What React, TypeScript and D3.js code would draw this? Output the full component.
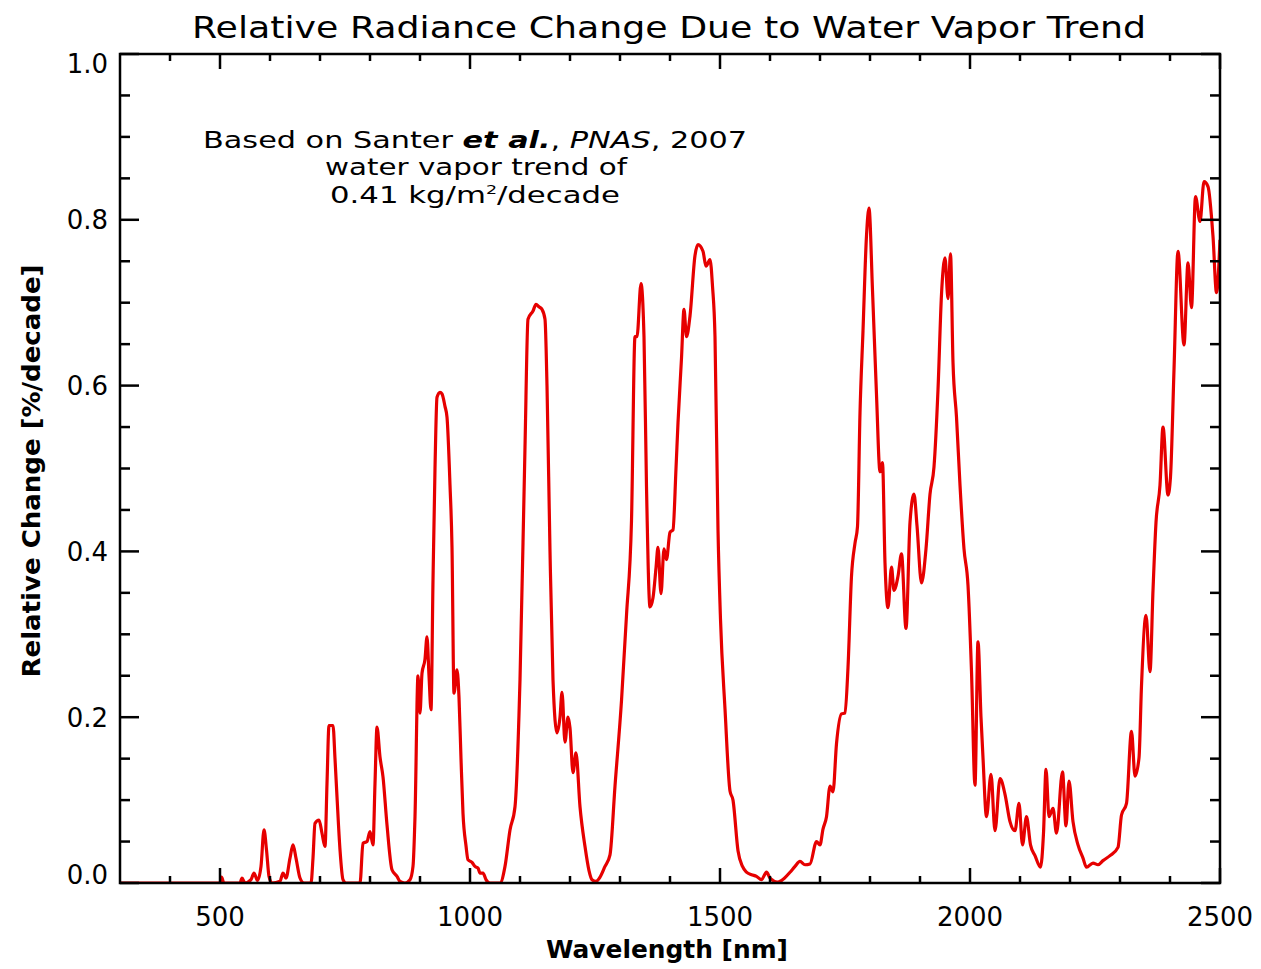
import React from "react";
import * as d3 from "d3";

const wavelengths: number[] = [
  300, 500, 503, 508, 540, 544, 550, 562, 568, 575, 582, 588, 593, 598, 604, 620, 626, 632, 640, 646,
  652, 660, 668, 682, 686, 690, 698, 704, 710, 714, 718, 726, 730, 734, 740, 746, 752, 780, 786, 794,
  800, 806, 810, 814, 820, 826, 834, 844, 854, 860, 870, 880, 886, 890, 896, 900, 904, 910, 914, 918,
  922, 926, 930, 934, 940, 944, 950, 954, 960, 964, 968, 974, 978, 982, 986, 992, 996, 1004, 1010, 1016,
  1020, 1026, 1032, 1040, 1060, 1070, 1080, 1090, 1100, 1110, 1116, 1126, 1132, 1138, 1144, 1150, 1154, 1160, 1166, 1174,
  1180, 1184, 1190, 1196, 1200, 1206, 1212, 1220, 1230, 1238, 1244, 1252, 1260, 1270, 1280, 1290, 1303, 1313, 1323, 1330,
  1334, 1342, 1348, 1353, 1360, 1366, 1372, 1376, 1382, 1388, 1393, 1400, 1406, 1412, 1416, 1423, 1428, 1433, 1440, 1450,
  1456, 1466, 1472, 1480, 1485, 1490, 1496, 1501, 1510, 1520, 1526, 1536, 1545, 1553, 1563, 1573, 1583, 1593, 1600, 1606,
  1615, 1623, 1640, 1650, 1660, 1670, 1680, 1693, 1700, 1706, 1713, 1720, 1726, 1733, 1743, 1750, 1756, 1763, 1770, 1775,
  1780, 1786, 1793, 1798, 1805, 1813, 1820, 1825, 1830, 1836, 1843, 1848, 1856, 1863, 1872, 1880, 1888, 1894, 1903, 1912,
  1920, 1928, 1936, 1943, 1950, 1956, 1961, 1966, 1973, 1980, 1988, 1996, 2003, 2010, 2016, 2022, 2026, 2033, 2042, 2050,
  2060, 2070, 2080, 2090, 2098, 2105, 2113, 2121, 2130, 2141, 2147, 2152, 2158, 2166, 2173, 2185, 2192, 2198, 2206, 2216,
  2226, 2233, 2246, 2256, 2266, 2280, 2296, 2303, 2313, 2323, 2330, 2338, 2343, 2352, 2360, 2366, 2372, 2380, 2386, 2396,
  2401, 2408, 2416, 2428, 2436, 2443, 2451, 2460, 2468, 2476, 2486, 2493, 2500,
];

const relativeChange: number[] = [
  0, 0, 0.007, 0, 0, 0.006, 0, 0.004, 0.012, 0.003, 0.02, 0.064, 0.04, 0.008, 0, 0.002, 0.012, 0.006, 0.03, 0.046,
  0.03, 0.006, 0, 0, 0.03, 0.072, 0.076, 0.06, 0.044, 0.12, 0.19, 0.19, 0.15, 0.104, 0.04, 0.004, 0, 0, 0.048, 0.05,
  0.062, 0.046, 0.12, 0.188, 0.152, 0.128, 0.07, 0.016, 0.008, 0.002, 0, 0.004, 0.02, 0.08, 0.25, 0.205, 0.253, 0.27, 0.297, 0.25,
  0.209, 0.365, 0.5, 0.586, 0.592, 0.59, 0.575, 0.562, 0.48, 0.405, 0.229, 0.257, 0.224, 0.15, 0.084, 0.045, 0.028, 0.025, 0.02, 0.018,
  0.012, 0.012, 0.004, 0, 0, 0.02, 0.064, 0.092, 0.245, 0.526, 0.68, 0.69, 0.698, 0.695, 0.692, 0.68, 0.6, 0.4, 0.245, 0.181,
  0.2, 0.23, 0.17, 0.2, 0.187, 0.133, 0.157, 0.092, 0.044, 0.015, 0.004, 0.002, 0.007, 0.02, 0.034, 0.117, 0.22, 0.323, 0.437, 0.659,
  0.659, 0.723, 0.659, 0.478, 0.333, 0.344, 0.38, 0.405, 0.349, 0.403, 0.39, 0.423, 0.426, 0.5, 0.555, 0.633, 0.692, 0.659, 0.684, 0.757,
  0.77, 0.762, 0.744, 0.752, 0.72, 0.659, 0.426, 0.318, 0.21, 0.111, 0.1, 0.039, 0.02, 0.013, 0.01, 0.008, 0.004, 0.013, 0.006, 0.003,
  0.001, 0.003, 0.013, 0.02, 0.026, 0.022, 0.023, 0.05, 0.046, 0.065, 0.08, 0.117, 0.11, 0.168, 0.204, 0.205, 0.26, 0.37, 0.41, 0.43,
  0.567, 0.666, 0.781, 0.814, 0.715, 0.589, 0.496, 0.507, 0.386, 0.332, 0.381, 0.353, 0.37, 0.397, 0.307, 0.435, 0.469, 0.431, 0.362, 0.403,
  0.469, 0.502, 0.595, 0.71, 0.754, 0.705, 0.759, 0.628, 0.562, 0.48, 0.403, 0.359, 0.255, 0.118, 0.291, 0.2, 0.151, 0.08, 0.131, 0.063,
  0.126, 0.107, 0.074, 0.063, 0.096, 0.046, 0.08, 0.046, 0.033, 0.019, 0.06, 0.137, 0.08, 0.09, 0.06, 0.134, 0.069, 0.123, 0.074, 0.046,
  0.03, 0.019, 0.024, 0.022, 0.027, 0.033, 0.043, 0.082, 0.096, 0.183, 0.129, 0.151, 0.238, 0.323, 0.255, 0.353, 0.435, 0.48, 0.55, 0.468,
  0.49, 0.619, 0.762, 0.649, 0.748, 0.694, 0.828, 0.798, 0.846, 0.84, 0.78, 0.712, 0.776,
];

const xMajorTicks: number[] = [500, 1000, 1500, 2000, 2500];
const xMinorTicks: number[] = [400, 600, 700, 800, 900, 1100, 1200, 1300, 1400, 1600, 1700, 1800, 1900, 2100, 2200, 2300, 2400];
const yMajorTicks: number[] = [0, 0.2, 0.4, 0.6, 0.8, 1.0];
const yMinorTicks: number[] = [0.05, 0.1, 0.15, 0.25, 0.3, 0.35, 0.45, 0.5, 0.55, 0.65, 0.7, 0.75, 0.85, 0.9, 0.95];

const title = "Relative Radiance Change Due to Water Vapor Trend";
const xTitle = "Wavelength [nm]";
const yTitle = "Relative Change [%/decade]";

const W = 1261;
const H = 969;
const left = 120;
const right = 1220;
const top = 54;
const bottom = 883;

const FONT = "'DejaVu Sans', 'Liberation Sans', sans-serif";

export default function App() {
  React.useEffect(() => {
    document.body.style.margin = "0";
  }, []);

  const x = d3.scaleLinear().domain([300, 2500]).range([left, right]);
  const y = d3.scaleLinear().domain([0, 1]).range([bottom, top]);

  const pts: [number, number][] = wavelengths.map((w, i) => [w, relativeChange[i]]);
  const line = d3
    .line<[number, number]>()
    .x((d) => x(d[0]))
    .y((d) => y(d[1]))
    .curve(d3.curveMonotoneX);

  const xMajLen = 15;
  const xMinLen = 7;
  const yMajLen = 19;
  const yMinLen = 10;

  return (
    <svg width={W} height={H} style={{ display: "block", background: "#fff" }} fontFamily={FONT}>
      <rect x={0} y={0} width={W} height={H} fill="#fff" />
      <text x={669} y={38} textAnchor="middle" fontSize={31} textLength={954} lengthAdjust="spacingAndGlyphs" fill="#000">
        {title}
      </text>

      <defs>
        <clipPath id="plotclip">
          <rect x={left} y={top - 5} width={right - left} height={bottom - top + 5} />
        </clipPath>
      </defs>

      <path d={line(pts) || ""} fill="none" stroke="#e60000" strokeWidth={3.2} strokeLinejoin="round" clipPath="url(#plotclip)" />

      {/* ticks */}
      <g stroke="#000" strokeWidth={2.5}>
        {xMajorTicks.map((t) => (
          <g key={"xm" + t}>
            <line x1={x(t)} x2={x(t)} y1={bottom} y2={bottom - xMajLen} />
            <line x1={x(t)} x2={x(t)} y1={top} y2={top + xMajLen} />
          </g>
        ))}
        {xMinorTicks.map((t) => (
          <g key={"xn" + t}>
            <line x1={x(t)} x2={x(t)} y1={bottom} y2={bottom - xMinLen} />
            <line x1={x(t)} x2={x(t)} y1={top} y2={top + xMinLen} />
          </g>
        ))}
        {yMajorTicks.map((t) => (
          <g key={"ym" + t}>
            <line x1={left} x2={left + yMajLen} y1={y(t)} y2={y(t)} />
            <line x1={right} x2={right - yMajLen} y1={y(t)} y2={y(t)} />
          </g>
        ))}
        {yMinorTicks.map((t) => (
          <g key={"yn" + t}>
            <line x1={left} x2={left + yMinLen} y1={y(t)} y2={y(t)} />
            <line x1={right} x2={right - yMinLen} y1={y(t)} y2={y(t)} />
          </g>
        ))}
      </g>

      <rect x={left} y={top} width={right - left} height={bottom - top} fill="none" stroke="#000" strokeWidth={2.5} />

      {/* x tick labels */}
      {xMajorTicks.map((t) => (
        <text key={"xl" + t} x={x(t)} y={926} textAnchor="middle" fontSize={26} fill="#000">
          {String(t)}
        </text>
      ))}
      {/* y tick labels */}
      {yMajorTicks.map((t) => {
        const cy = Math.max(top + 10, Math.min(bottom - 8, y(t)));
        return (
          <text key={"yl" + t} x={108} y={cy} dy="0.36em" textAnchor="end" fontSize={26} fill="#000">
            {d3.format(".1f")(t)}
          </text>
        );
      })}

      <text x={667} y={958} textAnchor="middle" fontSize={25} fontWeight={600} textLength={242} lengthAdjust="spacingAndGlyphs" fill="#000">
        {xTitle}
      </text>
      <text
        transform={`translate(40, 471) rotate(-90)`}
        textAnchor="middle"
        fontSize={25}
        fontWeight={600}
        textLength={413}
        lengthAdjust="spacingAndGlyphs"
        fill="#000"
      >
        {yTitle}
      </text>

      {/* annotation */}
      <text x={475} y={148} textAnchor="middle" fontSize={23} fill="#000" textLength={544} lengthAdjust="spacingAndGlyphs">
        <tspan>Based on Santer </tspan>
        <tspan fontStyle="italic" fontWeight="bold">et al.</tspan>
        <tspan>, </tspan>
        <tspan fontStyle="italic">PNAS</tspan>
        <tspan>, 2007</tspan>
      </text>
      <text x={476} y={175} textAnchor="middle" fontSize={23} fill="#000" textLength={302} lengthAdjust="spacingAndGlyphs">
        water vapor trend of
      </text>
      <text x={475} y={203} textAnchor="middle" fontSize={23} fill="#000" textLength={290} lengthAdjust="spacingAndGlyphs">
        <tspan>0.41 kg/m</tspan>
        <tspan fontSize={13} dy={-9}>2</tspan>
        <tspan dy={9}>/decade</tspan>
      </text>
    </svg>
  );
}
